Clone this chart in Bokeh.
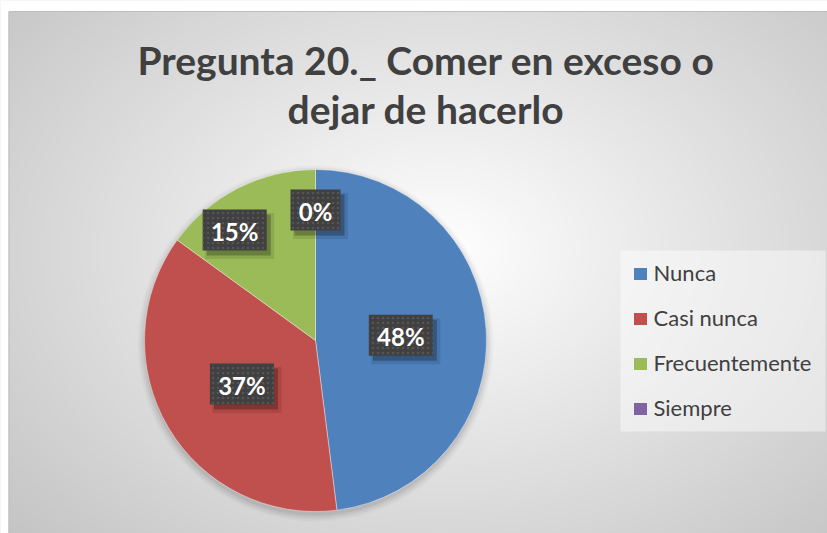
import numpy as np
from bokeh.plotting import figure
from bokeh.models import Range1d, ColumnDataSource
from bokeh.core.properties import value
from bokeh.embed import file_html
from bokeh.resources import INLINE

# ---------------- data ----------------
title_lines = ["Pregunta 20._ Comer en exceso o", "dejar de hacerlo"]
categories = ["Nunca", "Casi nunca", "Frecuentemente", "Siempre"]
percentages = [48, 37, 15, 0]
colors = ["#4F81BD", "#C0504D", "#9BBB59", "#8064A2"]

# ---------------- layout ----------------
W, H = 827, 533


def X(xr):
    return xr


def Y(yr):
    return H - yr


p = figure(width=W, height=H, x_range=Range1d(0, W), y_range=Range1d(0, H),
           output_backend="svg", toolbar_location=None, min_border=0,
           x_axis_type=None, y_axis_type=None)
p.grid.visible = False
p.outline_line_color = None
p.background_fill_color = "white"
p.border_fill_color = "white"

# radial gradient background
yy, xx = np.mgrid[0:H, 0:W]
xr = xx + 0.5
yr = H - (yy + 0.5)
dx = (xr - 440) / 420
dy = (yr - 250) / 300
r = np.sqrt(dx ** 2 + dy ** 2)
v = (255 - 42 * np.clip(r, 0, 1.45)).astype(np.uint8)
img = np.empty((H, W), dtype=np.uint32)
view = img.view(dtype=np.uint8).reshape((H, W, 4))
view[..., 0] = v
view[..., 1] = v
view[..., 2] = v
view[..., 3] = 255
p.image_rgba(image=[img], x=0, y=0, dw=W, dh=H)

# white margin above / left of the chart + border
p.quad(left=0, right=W, bottom=Y(11), top=H, fill_color="white", line_color=None)
p.quad(left=0, right=X(8), bottom=0, top=H, fill_color="white", line_color=None)
p.line([X(8.5), X(8.5)], [0, Y(11)], line_color="#bdbdbd", line_width=1)
p.line([X(8.5), W], [Y(11), Y(11)], line_color="#bdbdbd", line_width=1)

# pie
cx, cy, R = X(315), Y(340), 171
for dr, a in [(7, 0.025), (5, 0.035), (3, 0.045), (1, 0.06)]:
    p.circle(x=cx, y=cy - 3, radius=R + dr, fill_color="black", fill_alpha=a,
             line_color=None)

fr = np.array(percentages, dtype=float) / sum(percentages)
cum = np.concatenate([[0.0], np.cumsum(fr)])
starts = np.pi / 2 - 2 * np.pi * cum[:-1]
ends = np.pi / 2 - 2 * np.pi * cum[1:]
mask = fr > 0
src = ColumnDataSource(dict(start=starts[mask], end=ends[mask],
                            color=[c for c, m in zip(colors, mask) if m]))
p.wedge(x=cx, y=cy, radius=R, start_angle="start", end_angle="end",
        direction="clock", fill_color="color", line_color="white",
        line_width=0.8, line_alpha=0.5, source=src)

# data labels
label_rf = [0.5, 0.5, 0.8, 0.763]
label_dang = [0.0, 0.0, np.deg2rad(9.2), 0.0]
mid = (starts + ends) / 2
ang = mid + np.array(label_dang)
lx = cx + np.array(label_rf) * R * np.cos(ang)
ly = cy + np.array(label_rf) * R * np.sin(ang)
ltxt = [f"{pc}%" for pc in percentages]
lw = [14 * len(t) + 22 for t in ltxt]
lsrc = ColumnDataSource(dict(x=lx, y=ly, xs=lx + 4, ys=ly - 5, xs2=lx + 5, ys2=ly - 6,
                             ty=ly - 1,
                             w=lw, w2=[w + 5 for w in lw], t=ltxt))
p.rect(x="xs2", y="ys2", width="w2", height=46, fill_color="black", fill_alpha=0.10,
       line_color=None, source=lsrc)
p.rect(x="xs", y="ys", width="w", height=41, fill_color="black", fill_alpha=0.25,
       line_color=None, source=lsrc)
p.rect(x="x", y="y", width="w", height=41, fill_color="#404040", line_color=None,
       hatch_pattern="dot", hatch_color="#555555", hatch_scale=5, hatch_weight=1,
       source=lsrc)
p.text(x="x", y="ty", text="t", text_color="white", text_font=value("Lato"),
       text_font_style="bold", text_font_size="24px", text_align="center",
       text_baseline="middle", source=lsrc)

# legend
p.quad(left=X(620), right=X(825), top=Y(250), bottom=Y(431), fill_color="white",
       fill_alpha=0.45, line_color=None)
row_y = [273.5 + 45 * i for i in range(len(categories))]
lg = ColumnDataSource(dict(x=[X(640)] * len(categories), y=[Y(v) for v in row_y],
                           tx=[X(653)] * len(categories), ty=[Y(v - 1.5) for v in row_y],
                           c=colors, t=categories))
p.rect(x="x", y="y", width=13, height=12, fill_color="c", line_color=None, source=lg)
p.text(x="tx", y="ty", text="t", text_color="#404040", text_font=value("Lato"),
       text_font_size="22px", text_align="left", text_baseline="alphabetic", source=lg)

# title
p.text(x=[X(425.5)] * 2, y=[Y(59), Y(108)], text=title_lines, text_color="#404040",
       text_font=value("Lato"), text_font_style="bold", text_font_size="39px",
       text_align="center", text_baseline="alphabetic")

open("out.html", "w").write(file_html(p, INLINE))
